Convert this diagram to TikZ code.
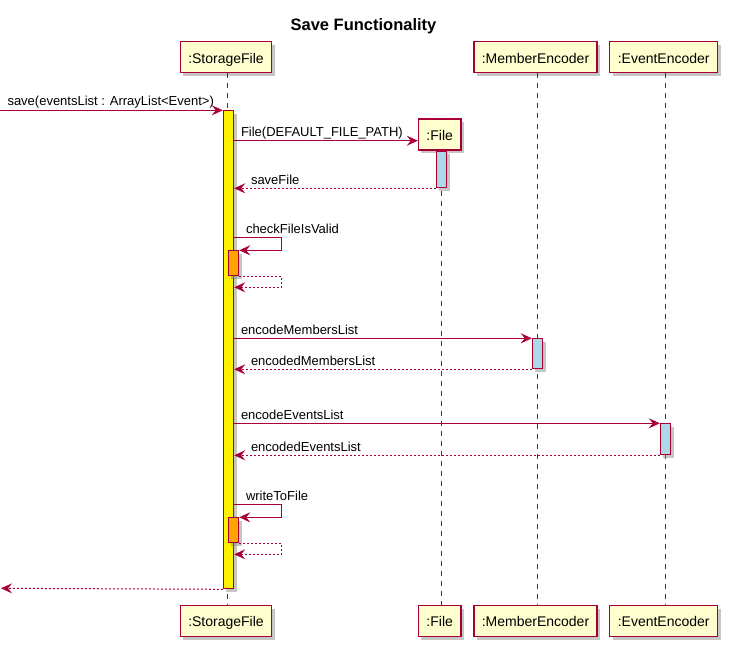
\documentclass[tikz,border=0pt]{standalone}
\usepackage{fontspec}
\setmainfont{Liberation Sans}
\usetikzlibrary{arrows.meta}
\usetikzlibrary{shadows}
\definecolor{umlred}{HTML}{A80036}
\definecolor{umlbox}{HTML}{FEFECE}
\definecolor{umlblue}{HTML}{ADD8E6}
\definecolor{umlorange}{HTML}{FFA500}

\begin{document}
\begin{tikzpicture}[x=1pt, y=-1pt, >={Stealth[length=11pt, width=10pt, inset=4pt]},
	shade/.style={drop shadow={shadow xshift=3pt, shadow yshift=-3pt, fill=black!50, opacity=0.45}},
	part/.style={draw=umlred, fill=umlbox, line width=1.4pt, shade, font=\fontsize{14}{16}\selectfont, minimum height=31pt, inner xsep=8pt, text height=11.6pt, text depth=0pt},
	act/.style={draw=umlred, line width=1pt, shade, inner sep=0pt, minimum width=10.4pt, anchor=north},
	life/.style={umlred, line width=1pt, dash pattern=on 5pt off 5pt},
	msg/.style={umlred, line width=1pt, ->},
	ret/.style={msg, dash pattern=on 2pt off 2pt},
	lbl/.style={text=black, font=\fontsize{13}{15}\selectfont, inner sep=0pt, anchor=base west, yshift=4.3pt}]
	\useasboundingbox (0,0) rectangle (730,650);
	\node [font=\bfseries\fontsize{16.5}{19}\selectfont, anchor=base] (title) at (363.5,30.7) {Save Functionality};
	\node [part] (sfT) at (226,57.3) {:StorageFile};
	\node [part] (meT) at (535.5,57.3) {:MemberEncoder};
	\node [part] (eeT) at (663.7,57.3) {:EventEncoder};
	\node [part] (fileC) at (439.7,134.5) {:File};
	\node [part] (sfB) at (226,621) {:StorageFile};
	\node [part] (fileB) at (439.7,621) {:File};
	\node [part] (meB) at (535.5,621) {:MemberEncoder};
	\node [part] (eeB) at (663.7,621) {:EventEncoder};
	\draw [life] ([xshift=1.3pt]sfT.south) -- ([xshift=1.3pt]sfB.north);
	\draw [life] ([xshift=1.3pt]fileC.south) -- ([xshift=1.3pt]fileB.north);
	\draw [life] ([xshift=1.8pt]meT.south) -- ([xshift=1.8pt]meB.north);
	\draw [life] ([xshift=1.6pt]eeT.south) -- ([xshift=1.6pt]eeB.north);
	\node [act, fill=yellow, minimum height=478pt] (sfA) at (228.5,110.3) {};
	\node [act, fill=umlblue, minimum height=36.6pt] (fA) at (441.3,150.7) {};
	\node [act, fill=umlorange, minimum height=25pt] (ckA) at (233.5,250.3) {};
	\node [act, fill=umlblue, minimum height=30pt] (meA) at (537.5,338.3) {};
	\node [act, fill=umlblue, minimum height=31pt] (eeA) at (665.5,423.3) {};
	\node [act, fill=umlorange, minimum height=25pt] (wrA) at (233.5,517.3) {};
	\coordinate (in) at (0,110.3);
	\coordinate (out) at (1,588.3);
	\draw [msg] (in) node [lbl, xshift=7pt] {save(eventsList : ArrayList<Event>)} -- (sfA.north west);
	\draw [msg] (sfA.east |- 0,140.7) node [lbl, xshift=6.3pt] {File(DEFAULT\_FILE\_PATH)} -- (fileC.west |- 0,140.7);
	\draw [ret] (fA.south west) -- (sfA.east |- fA.south west) node [lbl, xshift=16.3pt] {saveFile};
	\draw [msg] (sfA.east |- 0,237.7) node [lbl, xshift=11.3pt] {checkFileIsValid} -- ++(47.3,0) |- (ckA.north east);
	\draw [ret] (ckA.south east) -- ++(42.3,0) |- (sfA.east |- 0,287.3);
	\draw [msg] (sfA.east |- meA.north west) node [lbl, xshift=6.3pt] {encodeMembersList} -- (meA.north west);
	\draw [ret] (meA.south west) -- (sfA.east |- meA.south west) node [lbl, xshift=16.3pt] {encodedMembersList};
	\draw [msg] (sfA.east |- eeA.north west) node [lbl, xshift=6.3pt] {encodeEventsList} -- (eeA.north west);
	\draw [ret] (eeA.south west) -- (sfA.east |- eeA.south west) node [lbl, xshift=16.3pt] {encodedEventsList};
	\draw [msg] (sfA.east |- 0,504.3) node [lbl, xshift=11.3pt] {writeToFile} -- ++(47.3,0) |- (wrA.north east);
	\draw [ret] (wrA.south east) -- ++(42.3,0) |- (sfA.east |- 0,554.3);
	\draw [ret] (sfA.south west) -- (out);
\end{tikzpicture}
\end{document}
